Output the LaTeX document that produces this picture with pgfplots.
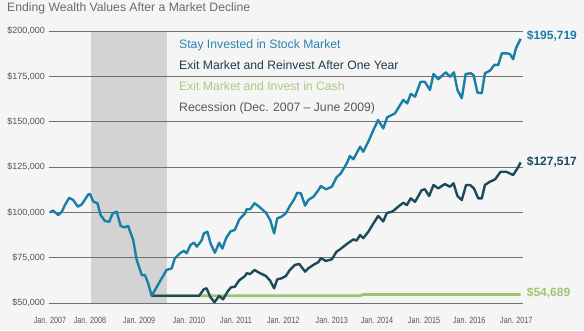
\documentclass[border=0pt]{standalone}
\usepackage{pgfplots}
\pgfplotsset{compat=1.18}
\usepackage{graphicx}
\usepackage{fontspec}
\setmainfont{Liberation Sans}
\definecolor{bgc}{HTML}{F5F5F5}
\definecolor{recess}{HTML}{D3D3D3}
\definecolor{gridc}{HTML}{707070}
\definecolor{blueline}{HTML}{1A7FA5}
\definecolor{darkline}{HTML}{1C4A5A}
\definecolor{greenline}{HTML}{9EC46F}
\definecolor{leg1}{HTML}{2B82AD}
\definecolor{leg2}{HTML}{1F3A4A}
\definecolor{leg3}{HTML}{A9C985}
\definecolor{leg4}{HTML}{575757}
\definecolor{titlec}{HTML}{6B6B6B}
\definecolor{tickc}{HTML}{555555}
\begin{document}
\begin{tikzpicture}
\fill[bgc] (0,0) rectangle (584pt,330pt);
% recession shading
\begin{axis}[at={(49pt,27pt)}, anchor=south west, scale only axis,
  width=474pt, height=272pt, xmin=-0.25, xmax=120.5, ymin=50000, ymax=200000,
  hide axis]
\addplot[fill=recess, draw=none] coordinates {(10.4,200000) (29.7,200000)} \closedcycle;
\end{axis}
\begin{axis}[at={(49pt,27pt)}, anchor=south west, scale only axis,
  width=474pt, height=272pt, xmin=-0.25, xmax=120.5, ymin=50000, ymax=200000,
  clip=false,
  axis line style={draw=none},
  major tick length=0pt,
  ymajorgrids=true,
  grid style={draw=gridc, line width=0.9pt},
  scaled y ticks=false,
  ytick={50000,75000,100000,125000,150000,175000,200000},
  yticklabels={{\$50,000},{\$75,000},{\$100,000},{\$125,000},{\$150,000},{\$175,000},{\$200,000}},
  yticklabel style={font=\fontsize{9}{10}\selectfont, text=tickc, inner sep=0pt, anchor=east, xshift=-4pt},
  xtick={0,10.2,22.7,35.4,47.4,59.4,71.8,83.3,95.3,106.8,118.8},
  xticklabels={{\scalebox{0.8}[1]{Jan. 2007}},{\scalebox{0.8}[1]{Jan. 2008}},{\scalebox{0.8}[1]{Jan. 2009}},{\scalebox{0.8}[1]{Jan. 2010}},{\scalebox{0.8}[1]{Jan. 2011}},{\scalebox{0.8}[1]{Jan. 2012}},{\scalebox{0.8}[1]{Jan. 2013}},{\scalebox{0.8}[1]{Jan. 2014}},{\scalebox{0.8}[1]{Jan. 2015}},{\scalebox{0.8}[1]{Jan. 2016}},{\scalebox{0.8}[1]{Jan. 2017}}},
  xticklabel style={font=\fontsize{9}{10}\selectfont, text=tickc, inner sep=0pt, anchor=north, yshift=-14pt},
]
\addplot[greenline, line width=2.6pt, line join=round] coordinates {
(25.9,54000)(79.0,54000)(79.8,54689)(119.9,54689)};
\addplot[darkline, line width=2.4pt, line join=round] coordinates {
(25.9,54000)(38.0,54000)(39.2,57600)(39.9,58100)(40.8,53500)(41.9,50400)(43.1,53900)(44.1,52000)(45.2,56200)(46.1,58600)(47.1,59000)(48.2,62500)(49.7,64900)(50.1,66400)(51.0,66000)(52.1,68200)(53.3,66700)(55.0,64900)(56.1,62300)(57.1,58100)(57.9,63100)(59.0,63600)(60.1,64900)(61.1,68200)(62.4,71000)(63.5,71500)(65.0,67300)(65.8,69100)(67.1,71000)(68.4,72600)(69.0,74700)(70.3,73200)(71.8,74100)(73.0,78300)(73.9,79600)(75.6,82500)(77.3,85100)(78.1,84400)(79.0,87500)(79.8,85700)(81.1,89300)(82.4,93900)(83.6,98000)(84.9,95000)(85.8,99600)(87.3,100500)(88.7,103100)(90.0,105300)(90.9,104000)(91.9,107700)(93.0,105800)(94.7,112300)(95.5,112700)(96.6,109000)(97.7,115100)(98.9,113200)(100.6,115600)(101.9,114100)(102.8,116000)(103.8,109000)(104.9,106800)(106.0,115100)(107.0,115100)(108.0,113200)(109.1,107700)(110.0,107700)(110.8,115100)(112.1,116900)(113.4,118200)(114.8,122400)(116.2,122400)(118.0,120600)(119.1,124300)(119.9,127517)};
\addplot[blueline, line width=2.4pt, line join=round] coordinates {
(0,100000)(0.8,101000)(2.1,98500)(3.0,100300)(3.8,104000)(4.9,108000)(5.9,106800)(7.1,103100)(8.1,104400)(9.8,110000)(10.2,110100)(11.0,106000)(12.1,105000)(12.9,98500)(14.0,95200)(15.1,94800)(16.0,99500)(17.0,100300)(18.0,92500)(18.9,91700)(19.9,92500)(21.2,84700)(22.1,73700)(22.8,69100)(23.4,65400)(24.2,65400)(25.0,60900)(25.9,54000)(29.7,68200)(31.0,69100)(31.8,74600)(33.1,77400)(34.1,78800)(34.8,77400)(35.8,82000)(36.7,83300)(37.4,81100)(38.6,84400)(39.2,88400)(40.1,89300)(40.9,82900)(42.0,77700)(43.1,83300)(43.9,80000)(44.9,85900)(46.0,89500)(47.1,90300)(48.2,96000)(49.7,99500)(50.1,101700)(51.0,101700)(52.1,105000)(53.3,103100)(55.0,99800)(56.1,95800)(57.1,88400)(57.9,96700)(59.0,97600)(60.1,99500)(61.1,103500)(62.2,107200)(63.0,110800)(63.9,110500)(65.0,103700)(65.8,106800)(67.1,108600)(68.4,112300)(69.0,114500)(70.3,112700)(71.8,114100)(73.0,119300)(74.1,121500)(75.6,127000)(76.4,131100)(77.3,129300)(79.0,136200)(79.8,133400)(81.1,139000)(82.4,145400)(83.6,150900)(84.9,146300)(85.9,152400)(87.1,153700)(87.9,154600)(89.2,159200)(90.0,162000)(91.0,160100)(91.9,165300)(93.0,163800)(94.4,172000)(95.5,172000)(96.8,167500)(97.7,176300)(98.9,173400)(100.8,177200)(101.9,174800)(102.9,177200)(103.8,167500)(104.9,162900)(105.9,176300)(107.2,176700)(107.9,175700)(108.9,166000)(110.0,165700)(110.8,176700)(112.1,178200)(113.2,181300)(114.2,181300)(115.1,187700)(116.4,187700)(117.2,187200)(118.0,184400)(118.7,190500)(119.9,195719)};
\node[anchor=west, inner sep=0pt, xshift=6pt, yshift=3pt, text=blueline, font=\fontsize{12}{14}\selectfont\bfseries] at (axis cs:119.9,195719) {\$195,719};
\node[anchor=west, inner sep=0pt, xshift=6pt, yshift=0pt, text=darkline, font=\fontsize{12}{14}\selectfont\bfseries] at (axis cs:119.9,127517) {\$127,517};
\node[anchor=west, inner sep=0pt, xshift=6pt, yshift=1.5pt, text=greenline, font=\fontsize{12}{14}\selectfont\bfseries] at (axis cs:119.9,54689) {\$54,689};
\end{axis}
\node[anchor=base west, inner sep=0pt, text=titlec, font=\fontsize{12.2}{14}\selectfont] at (7pt,318pt) {Ending Wealth Values After a Market Decline};
\node[anchor=base west, inner sep=0pt, text=leg1, font=\fontsize{12.2}{14}\selectfont] at (179pt,281.3pt) {Stay Invested in Stock Market};
\node[anchor=base west, inner sep=0pt, text=leg2, font=\fontsize{12.2}{14}\selectfont] at (179pt,260.6pt) {Exit Market and Reinvest After One Year};
\node[anchor=base west, inner sep=0pt, text=leg3, font=\fontsize{12.2}{14}\selectfont] at (179pt,239.6pt) {Exit Market and Invest in Cash};
\node[anchor=base west, inner sep=0pt, text=leg4, font=\fontsize{12.2}{14}\selectfont] at (179pt,218.6pt) {Recession (Dec. 2007 -- June 2009)};
\pgfresetboundingbox
\path[use as bounding box] (0,0) rectangle (584pt,330pt);
\end{tikzpicture}
\end{document}
